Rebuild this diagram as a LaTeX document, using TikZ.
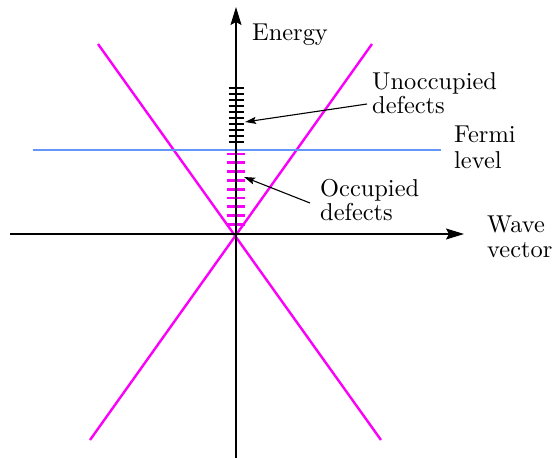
\documentclass[tikz,border=0pt]{standalone}
\usepackage{fontspec}
\newfontfamily\lmten[Extension=.otf]{lmroman10-regular}
\usetikzlibrary{arrows.meta}
\definecolor{fermiblue}{RGB}{100,150,250}
\definecolor{bandmag}{RGB}{250,0,250}
\begin{document}
\begin{tikzpicture}[x=1pt,y=-1pt,
  axis/.style={line width=1.2pt,-{Stealth[length=18pt,width=11pt,inset=3pt]}},
  band/.style={bandmag,line width=2.4pt},
  fermi/.style={fermiblue,line width=2pt},
  tickblack/.style={black,line width=1.1pt},
  tickmag/.style={bandmag,line width=2.8pt},
  annot/.style={line width=1.1pt,-{Stealth[length=11pt,width=7pt,inset=2pt]}},
  lbl/.style={anchor=base west,inner sep=0pt,font=\lmten\fontsize{24.4}{25}\selectfont}]
\useasboundingbox (0,0) rectangle (558,458);
% axes
\coordinate (O) at (236,234);
\coordinate (xs) at (10,234);
\coordinate (xe) at (464,234);
\coordinate (ys) at (236,458);
\coordinate (ye) at (236,7);
% bands
\coordinate (b1a) at (98,44);
\coordinate (b1b) at (381,440);
\coordinate (b2a) at (372,44);
\coordinate (b2b) at (90,440);
\draw[band] (b1a) -- (b1b);
\draw[band] (b2a) -- (b2b);
% fermi level
\coordinate (fa) at (33,150);
\coordinate (fb) at (441,150);
\draw[fermi] (fa) -- (fb);
% defect levels
\foreach \i in {0,...,9}{
  \draw[tickblack] (228.5,88+6*\i) -- (243.5,88+6*\i);
}
\foreach \i in {0,...,8}{
  \draw[tickmag] (227,154+8.8*\i) -- (245,154+8.8*\i);
}
\draw[axis] (xs) -- (xe);
\draw[axis] (ys) -- (ye);
% labels
\node[lbl] (energy) at (252,40) {Energy};
\node[lbl] (unocc1) at (372,89) {Unoccupied};
\node[lbl] (unocc2) at (372,113) {defects};
\node[lbl] (occ1) at (320,196) {Occupied};
\node[lbl] (occ2) at (320,220) {defects};
\node[lbl] (fermi1) at (454,142) {Fermi};
\node[lbl] (fermi2) at (454,168) {level};
\node[lbl] (wave1) at (487,232) {Wave};
\node[lbl] (wave2) at (487,257) {vector};
% annotation arrows
\coordinate (ua) at (367,104);
\coordinate (ut) at (245,122);
\coordinate (oa) at (310,203);
\coordinate (ot) at (244,177);
\draw[annot] (ua) -- (ut);
\draw[annot] (oa) -- (ot);
\end{tikzpicture}
\end{document}
